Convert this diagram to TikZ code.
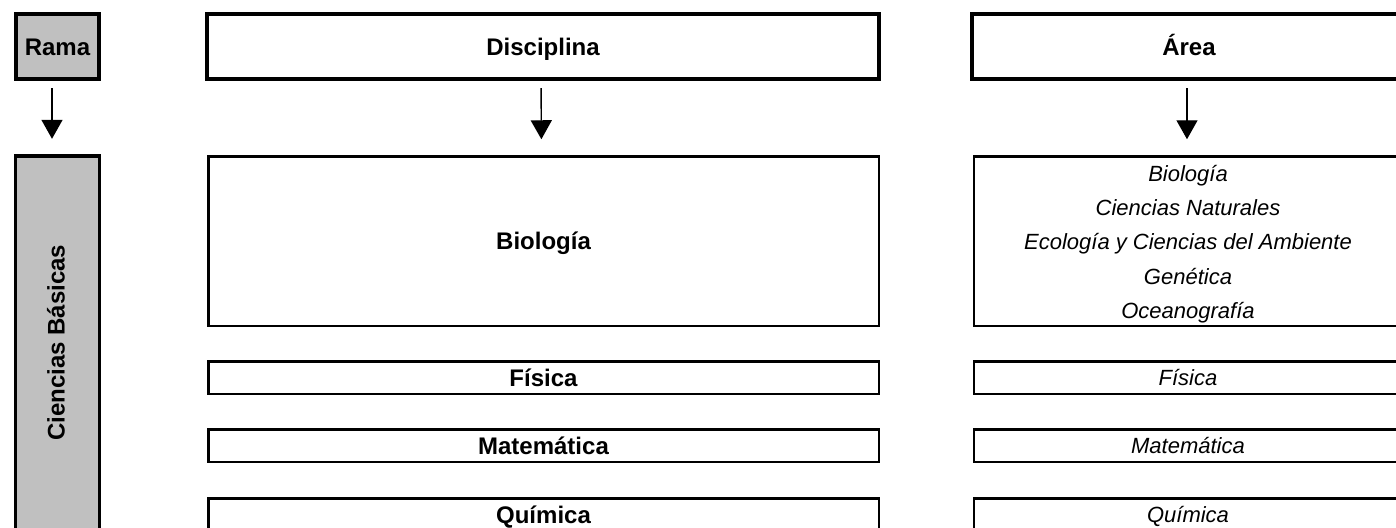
\documentclass[tikz,border=0pt]{standalone}
\usepackage{fontspec}
\setmainfont{Liberation Sans}
\usetikzlibrary{arrows.meta}
\definecolor{rgray}{HTML}{C0C0C0}
\begin{document}
\begin{tikzpicture}[x=0.5pt,y=-0.5pt,
  boldtxt/.style={font=\fontsize{12}{14}\selectfont\bfseries,text height=8.6pt,text depth=0pt},
  itaone/.style={font=\fontsize{11}{17.1}\selectfont\itshape,text height=7.9pt,text depth=0pt},
  hdr/.style={draw,line width=2pt,inner sep=0pt,outer sep=0pt,boldtxt,minimum height=32.5pt},
  thinbox/.style={draw,line width=1.25pt,inner sep=0pt,outer sep=0pt,
    minimum height=16.25pt},
  leftbox/.style={thinbox,minimum width=335.25pt,boldtxt},
  rightbox/.style={thinbox,minimum width=214pt},
  arr/.style={line width=0.7pt,-{Triangle[width=10.5pt,length=9.5pt]},
    shorten <=4.5pt,shorten >=8.5pt}]
\useasboundingbox (0,0) rectangle (1396,527);
\clip (0,0) rectangle (1396,527);
% headers
\node[hdr,fill=rgray,minimum width=41.5pt] (rama) at (57.5,46.5) {Rama};
\node[hdr,minimum width=336pt] (disc) at (543,46.5) {Disciplina};
\node[hdr,minimum width=217pt] (area) at (1189,46.5) {Área};
% branch
\node[draw,line width=1.75pt,fill=rgray,inner sep=0pt,outer sep=0pt,
  minimum width=42pt,minimum height=187.1pt,
  font=\fontsize{12}{14}\selectfont\bfseries] (cb) at (57.5,342.9)
  {\rotatebox{90}{\smash{\raisebox{-3.5pt}{Ciencias Básicas}}}};
% disciplines
\node[leftbox,minimum height=84.75pt] (dbio) at (543.5,241) {Biología};
\node[leftbox] (dfis) at (543.5,377.5) {Física};
\node[leftbox] (dmat) at (543.5,445.5) {Matemática};
\node[leftbox] (dqui) at (543.5,514.5) {Química};
% areas
\node[rightbox,minimum height=84.75pt,align=center,
  font=\fontsize{11}{17.1}\selectfont\itshape] (abio) at (1188,241)
  {\rule{0pt}{11.2pt}Biología\\Ciencias Naturales\\Ecología y Ciencias del Ambiente\\Genética\\Oceanografía};
\node[rightbox,itaone] (afis) at (1188,377.5) {Física};
\node[rightbox,itaone] (amat) at (1188,445.5) {Matemática};
\node[rightbox,itaone] (aqui) at (1188,514.5) {Química};
% arrows
\draw[arr] ([xshift=-2.75pt]rama.south) -- ([xshift=-2.75pt]cb.north);
\draw[arr] ([xshift=-1pt]disc.south) -- ([xshift=-1pt]dbio.north);
\draw[arr] ([xshift=-1pt]area.south) -- ([xshift=-0.5pt]abio.north);
\end{tikzpicture}
\end{document}
